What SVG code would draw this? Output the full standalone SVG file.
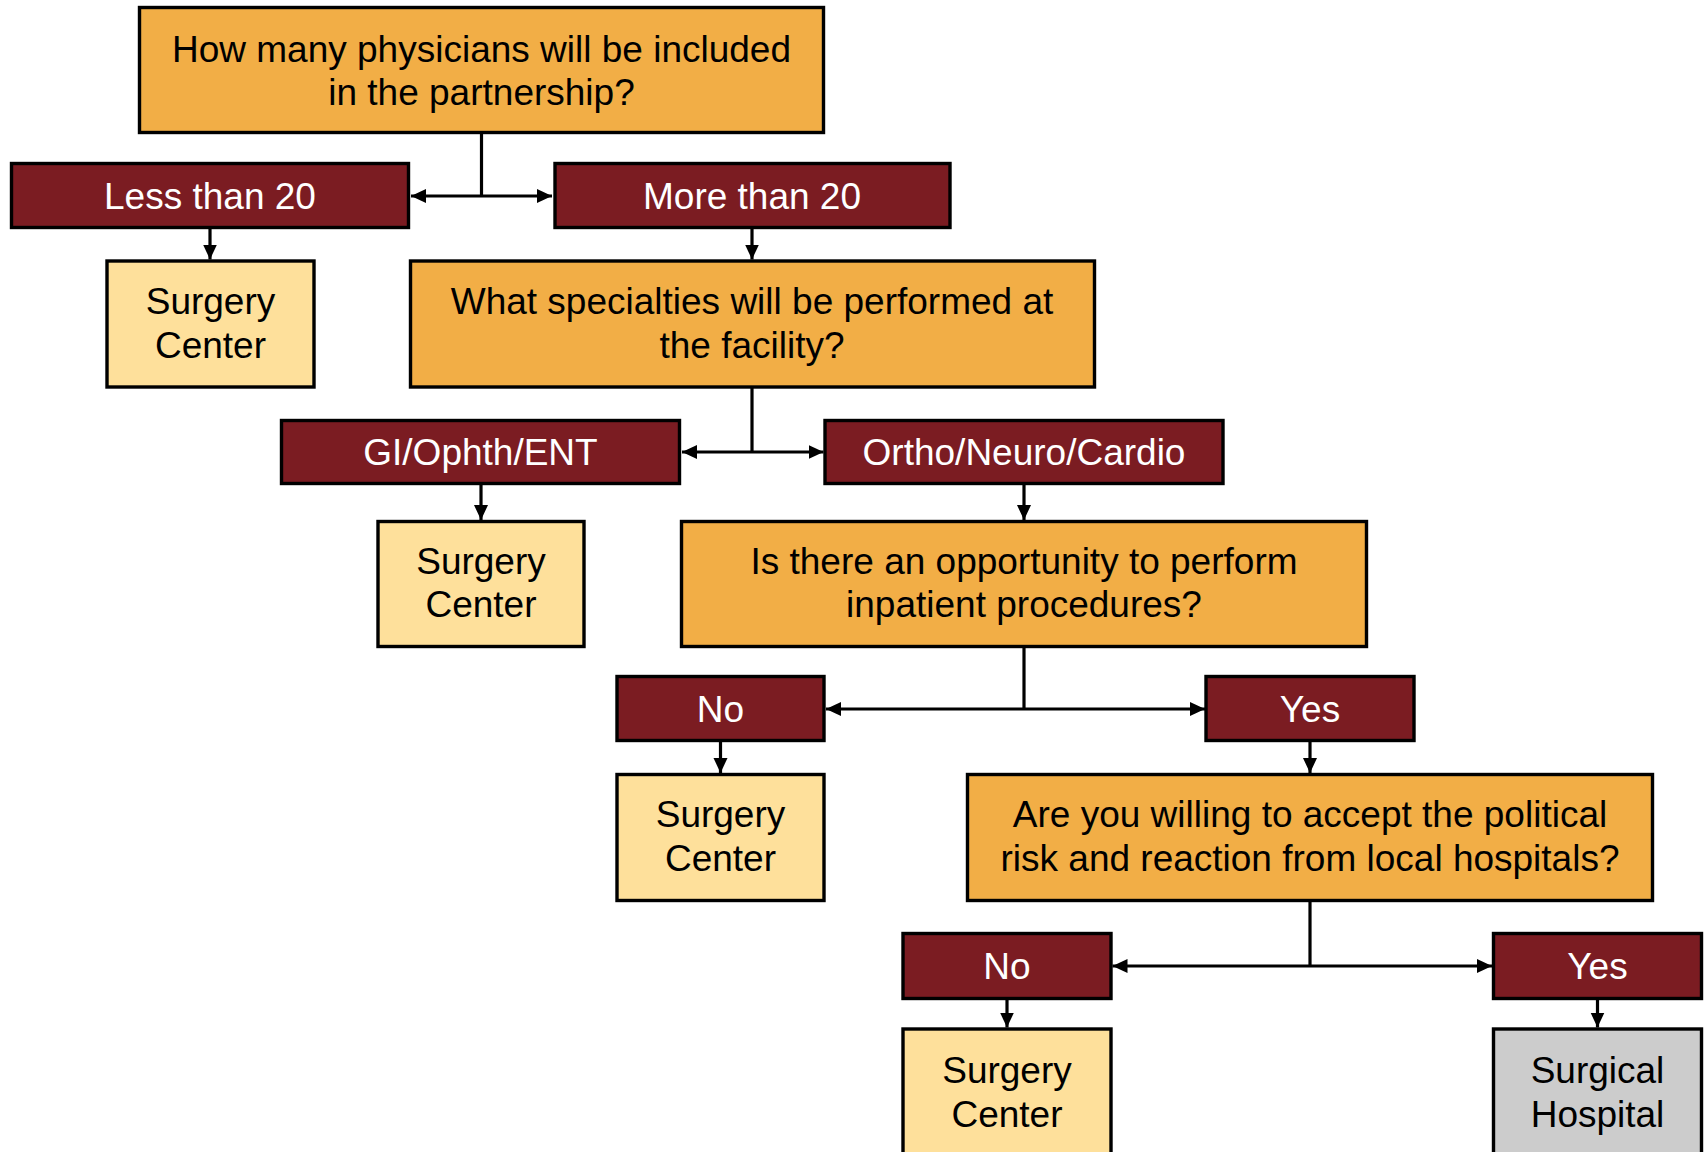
<svg xmlns="http://www.w3.org/2000/svg" width="1705" height="1152" viewBox="0 0 1705 1152">
  <style>
    .q rect, .a rect, .sc rect, .sh rect { stroke: #000; stroke-width: 3.4; }
    .q rect { fill: #F2AE46; }
    .a rect { fill: #7B1C22; }
    .sc rect { fill: #FEE09B; }
    .sh rect { fill: #CCCCCC; }
    text { font-family: "Liberation Sans", Arial, sans-serif; font-size: 37px; text-anchor: middle; fill: #000; }
    .a text { fill: #fff; }
    .wire { stroke: #000; stroke-width: 3.2; fill: none; }
    .arr { marker-end: url(#head); }
    .both { marker-start: url(#head); marker-end: url(#head); }
  </style>
  <defs>
    <marker id="head" markerUnits="userSpaceOnUse" markerWidth="16" markerHeight="15" refX="15" refY="7" orient="auto-start-reverse">
      <path d="M0,0 L15,7 L0,14 z" fill="#000"/>
    </marker>
  </defs>

  <rect x="0" y="0" width="1705" height="1152" fill="#fff"/>

  <g id="connectors">
    <path class="wire" d="M481.5,134 V196"/>
    <path class="wire both" d="M411,196 H552"/>
    <path class="wire arr" d="M210,229 V259.5"/>
    <path class="wire arr" d="M752,229 V259.5"/>

    <path class="wire" d="M752,387 V452"/>
    <path class="wire both" d="M682,452 H823.5"/>
    <path class="wire arr" d="M481,485 V520"/>
    <path class="wire arr" d="M1024,485 V520"/>

    <path class="wire" d="M1024,648 V709"/>
    <path class="wire both" d="M826,709 H1205"/>
    <path class="wire arr" d="M720.5,742 V773"/>
    <path class="wire arr" d="M1310,742 V773"/>

    <path class="wire" d="M1310,902 V966"/>
    <path class="wire both" d="M1112.5,966 H1492"/>
    <path class="wire arr" d="M1007,1000 V1027.5"/>
    <path class="wire arr" d="M1597.5,1000 V1027.5"/>
  </g>

  <g id="q-physicians" class="q">
    <rect x="139.5" y="7.5" width="684" height="125"/>
    <text x="481.5" y="62">How many physicians will be included</text>
    <text x="481.5" y="105">in the partnership?</text>
  </g>
  <g id="less-than-20" class="a">
    <rect x="11.5" y="163.5" width="397" height="64"/>
    <text x="210" y="208.5">Less than 20</text>
  </g>
  <g id="more-than-20" class="a">
    <rect x="555" y="163.5" width="395" height="64"/>
    <text x="752" y="208.5">More than 20</text>
  </g>
  <g id="surgery-center-1" class="sc">
    <rect x="107" y="261" width="207" height="126"/>
    <text x="210.5" y="314">Surgery</text>
    <text x="210.5" y="358">Center</text>
  </g>
  <g id="q-specialties" class="q">
    <rect x="410.5" y="261" width="684" height="126"/>
    <text x="752" y="314">What specialties will be performed at</text>
    <text x="752" y="358">the facility?</text>
  </g>
  <g id="gi-ophth-ent" class="a">
    <rect x="281.5" y="420.5" width="398" height="63"/>
    <text x="480.5" y="465">GI/Ophth/ENT</text>
  </g>
  <g id="ortho-neuro-cardio" class="a">
    <rect x="825" y="420.5" width="398" height="63"/>
    <text x="1024" y="465">Ortho/Neuro/Cardio</text>
  </g>
  <g id="surgery-center-2" class="sc">
    <rect x="378" y="521.5" width="206" height="125"/>
    <text x="481" y="574">Surgery</text>
    <text x="481" y="617">Center</text>
  </g>
  <g id="q-inpatient" class="q">
    <rect x="681.5" y="521.5" width="685" height="125"/>
    <text x="1024" y="574">Is there an opportunity to perform</text>
    <text x="1024" y="617">inpatient procedures?</text>
  </g>
  <g id="no-1" class="a">
    <rect x="617" y="676.5" width="207" height="64"/>
    <text x="720.5" y="721.5">No</text>
  </g>
  <g id="yes-1" class="a">
    <rect x="1206" y="676.5" width="208" height="64"/>
    <text x="1310" y="721.5">Yes</text>
  </g>
  <g id="surgery-center-3" class="sc">
    <rect x="617" y="774.5" width="207" height="126"/>
    <text x="720.5" y="827">Surgery</text>
    <text x="720.5" y="871">Center</text>
  </g>
  <g id="q-political-risk" class="q">
    <rect x="967.5" y="774.5" width="685" height="126"/>
    <text x="1310" y="827">Are you willing to accept the political</text>
    <text x="1310" y="871">risk and reaction from local hospitals?</text>
  </g>
  <g id="no-2" class="a">
    <rect x="903" y="933.5" width="208" height="65"/>
    <text x="1007" y="979">No</text>
  </g>
  <g id="yes-2" class="a">
    <rect x="1493.5" y="933.5" width="208" height="65"/>
    <text x="1597.5" y="979">Yes</text>
  </g>
  <g id="surgery-center-4" class="sc">
    <rect x="903" y="1029" width="208" height="140"/>
    <text x="1007" y="1083">Surgery</text>
    <text x="1007" y="1127">Center</text>
  </g>
  <g id="surgical-hospital" class="sh">
    <rect x="1493.5" y="1029" width="208" height="140"/>
    <text x="1597.5" y="1083">Surgical</text>
    <text x="1597.5" y="1127">Hospital</text>
  </g>
</svg>
